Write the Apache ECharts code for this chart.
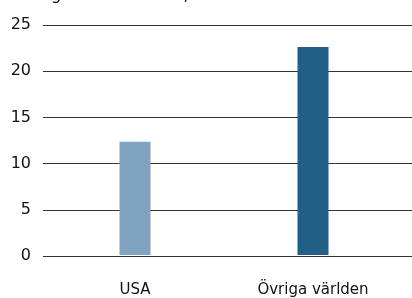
<!DOCTYPE html>
<html>
<head>
<meta charset="utf-8">
<script src="https://cdn.jsdelivr.net/npm/echarts@6/dist/echarts.min.js"></script>
<style>
	html, body { margin: 0; padding: 0; background: #fff; }
	#chart { width: 412px; height: 298px; }
</style>
</head>
<body>
<div id="chart"></div>
<script>
	// data
	var categories = ['USA', 'Övriga världen'];
	var values = [12.3, 22.6];
	var barColors = ['#7fa3c1', '#215f87'];
	var yTicks = [0, 5, 10, 15, 20, 25];

	var font = '"DejaVu Sans", sans-serif';
	var chart = echarts.init(document.getElementById('chart'));

	var option = {
		animation: false,
		title: {
			text: 'Bidrag till BNP-tillväxt, %',
			left: 4,
			top: -17,
			textStyle: { fontFamily: font, fontSize: 16, fontWeight: 'normal', color: '#111' }
		},
		grid: [
			{ left: 43, right: 0, top: 25, bottom: 42 },
			{ left: 46, right: 10, top: 25, bottom: 42 }
		],
		xAxis: [
			{ type: 'category', gridIndex: 0, data: categories, show: false },
			{
				type: 'category', gridIndex: 1, data: categories,
				axisLine: { show: false },
				axisTick: { show: false },
				axisLabel: { margin: 28, fontFamily: font, fontSize: 15, color: '#111' }
			}
		],
		yAxis: [
			{
				type: 'value', gridIndex: 0, min: yTicks[0], max: yTicks[yTicks.length - 1], interval: 5,
				axisLine: { show: false },
				axisTick: { show: false },
				splitLine: { lineStyle: { color: '#333', width: 1 } },
				axisLabel: { margin: 12, fontFamily: font, fontSize: 16, color: '#111' }
			},
			{
				type: 'value', gridIndex: 1, min: yTicks[0], max: yTicks[yTicks.length - 1], interval: 5,
				show: false
			}
		],
		series: [{
			type: 'bar',
			xAxisIndex: 1,
			yAxisIndex: 1,
			barWidth: 31,
			data: values.map(function (v, i) {
				return { value: v, itemStyle: { color: barColors[i] } };
			})
		}]
	};
	chart.setOption(option);
</script>
</body>
</html>
